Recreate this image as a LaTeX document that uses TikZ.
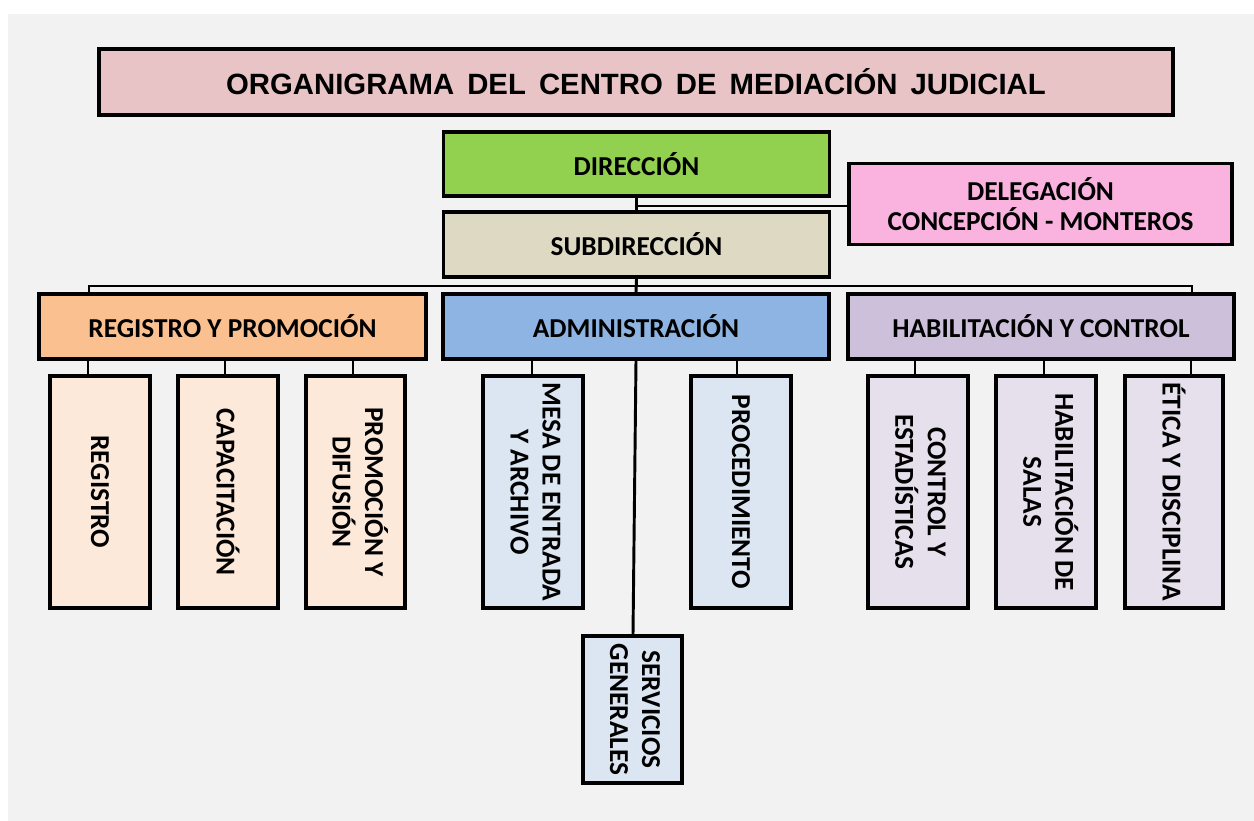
\documentclass[tikz,border=0pt]{standalone}
\usepackage{fontspec}
\usepackage{graphicx}
\setmainfont{Carlito}
\newfontfamily\titlefont[WordSpace=1.6]{Liberation Sans}
\newlength{\pxu}\setlength{\pxu}{0.75pt}
\definecolor{bggrey}{RGB}{242,242,242}
\definecolor{titlepink}{RGB}{232,196,198}
\definecolor{dirgreen}{RGB}{146,208,80}
\definecolor{subtan}{RGB}{221,217,195}
\definecolor{delpink}{RGB}{249,179,222}
\definecolor{rporange}{RGB}{250,192,144}
\definecolor{admblue}{RGB}{141,180,226}
\definecolor{hcpurple}{RGB}{204,192,218}
\definecolor{lorange}{RGB}{253,233,217}
\definecolor{lblue}{RGB}{220,230,242}
\definecolor{lpurple}{RGB}{229,224,236}
\begin{document}
\begin{tikzpicture}[x=0.75pt,y=-0.75pt,
  box/.style={draw=black, line width=2.3pt, inner sep=0pt, align=center,
    font=\fontsize{20.5}{24}\selectfont\bfseries},
  hbox/.style={box, minimum width=386\pxu, minimum height=65\pxu},
  vbox/.style={box, minimum width=100\pxu, minimum height=232\pxu},
  link/.style={line width=2.2pt}]
\useasboundingbox (0,0) rectangle (1254,821);
\fill[white] (0,0) rectangle (1254,821);
\fill[bggrey] (8,14) rectangle (1254,821);

% top
\node[box, fill=titlepink, minimum width=1074\pxu, minimum height=66\pxu,
  font=\titlefont\bfseries\fontsize{22}{26}\selectfont] (title) at (636,82)
  {ORGANIGRAMA DEL CENTRO DE MEDIACIÓN JUDICIAL};
\node[hbox, fill=dirgreen, minimum height=64\pxu] (dir) at (636.5,164) {DIRECCIÓN};
\node[hbox, fill=subtan] (sub) at (636.5,244.5) {SUBDIRECCIÓN};
\node[box, fill=delpink, minimum width=383\pxu, minimum height=81\pxu,
  font=\fontsize{20.5}{22.5}\selectfont\bfseries] (del) at (1040.5,204)
  {DELEGACIÓN\\CONCEPCIÓN - MONTEROS};

% second level
\node[hbox, fill=rporange, minimum width=387\pxu] (rp) at (232.5,326.5) {REGISTRO Y PROMOCIÓN};
\node[hbox, fill=admblue] (adm) at (636,326.5) {ADMINISTRACIÓN};
\node[hbox, fill=hcpurple] (hc) at (1041,326.5) {HABILITACIÓN Y CONTROL};

% third level
\node[vbox, fill=lorange] (reg) at (100,492) {\rotatebox{-90}{REGISTRO}};
\node[vbox, fill=lorange] (cap) at (228,492) {\rotatebox{-90}{CAPACITACIÓN}};
\node[vbox, fill=lorange, minimum width=99\pxu] (pd) at (355.5,492)
  {\rotatebox{-90}{\begin{tabular}{@{}c@{}}PROMOCIÓN Y\\DIFUSIÓN\end{tabular}}};
\node[vbox, fill=lblue] (mesa) at (533,492)
  {\rotatebox{-90}{\begin{tabular}{@{}c@{}}MESA DE ENTRADA\\Y ARCHIVO\end{tabular}}};
\node[vbox, fill=lblue] (proc) at (741,492) {\rotatebox{-90}{PROCEDIMIENTO}};
\node[vbox, fill=lblue, minimum width=99\pxu, minimum height=147\pxu] (serv) at (632.5,709.5)
  {\rotatebox{-90}{\begin{tabular}{@{}c@{}}SERVICIOS\\GENERALES\end{tabular}}};
\node[vbox, fill=lpurple] (ce) at (918,492)
  {\rotatebox{-90}{\begin{tabular}{@{}c@{}}CONTROL Y\\ESTADÍSTICAS\end{tabular}}};
\node[vbox, fill=lpurple] (hs) at (1046,492)
  {\rotatebox{-90}{\begin{tabular}{@{}c@{}}HABILITACIÓN DE\\SALAS\end{tabular}}};
\node[vbox, fill=lpurple, minimum width=98\pxu] (et) at (1174,492)
  {\rotatebox{-90}{ÉTICA Y DISCIPLINA}};

% connectors
\draw[link] (dir.south) -- (sub.north);
\draw[link] (del.west |- 0,206) -- (dir.south |- 0,206);
\coordinate (busL) at (89,286);
\coordinate (busR) at (1192,286);
\draw[link] (sub.south) -- (adm.north);
\draw[link] (busL |- rp.north) -- (busL) -- (busR) -- (busR |- hc.north);

\draw[link] ([xshift=-12\pxu]reg.north) -- ([xshift=-12\pxu]reg.north |- rp.south);
\draw[link] ([xshift=-3\pxu]cap.north) -- ([xshift=-3\pxu]cap.north |- rp.south);
\draw[link] ([xshift=-2.5\pxu]pd.north) -- ([xshift=-2.5\pxu]pd.north |- rp.south);
\draw[link] ([xshift=-1\pxu]mesa.north) -- ([xshift=-1\pxu]mesa.north |- adm.south);
\draw[link] ([xshift=-4\pxu]proc.north) -- ([xshift=-4\pxu]proc.north |- adm.south);
\draw[link] (adm.south) -- ([xshift=0.5\pxu]serv.north);
\draw[link] ([xshift=-3\pxu]ce.north) -- ([xshift=-3\pxu]ce.north |- hc.south);
\draw[link] ([xshift=-2\pxu]hs.north) -- ([xshift=-2\pxu]hs.north |- hc.south);
\draw[link] ([xshift=17\pxu]et.north) -- ([xshift=17\pxu]et.north |- hc.south);
\end{tikzpicture}
\end{document}
